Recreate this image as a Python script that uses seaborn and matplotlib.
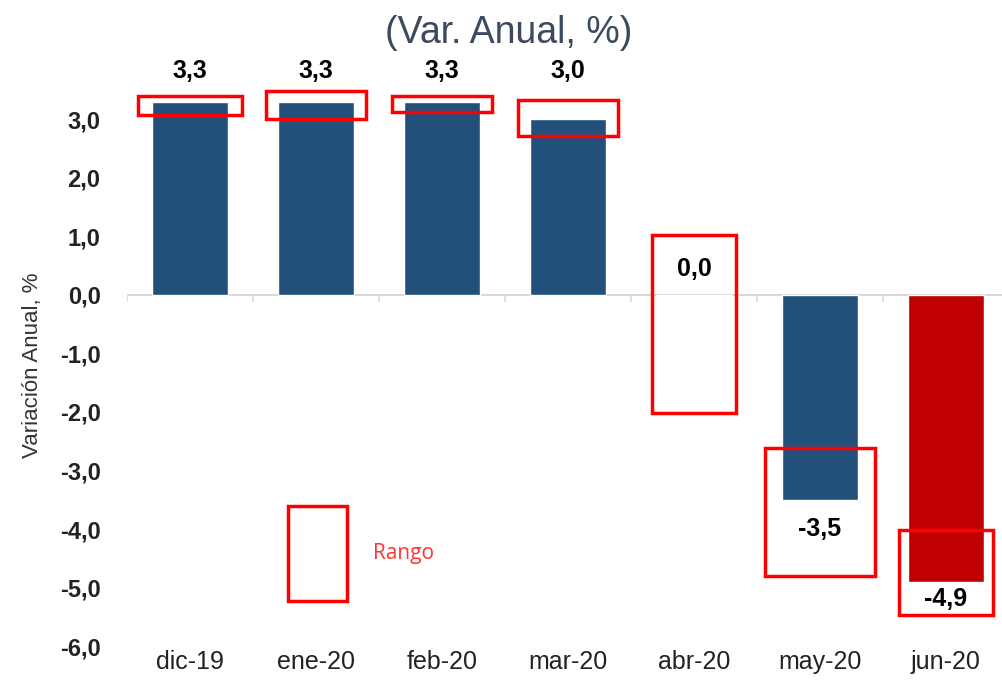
import numpy as np
import pandas as pd
import matplotlib
matplotlib.use("Agg")
import matplotlib.pyplot as plt
import seaborn as sns
from matplotlib.patches import Rectangle

# data
months = ["dic-19", "ene-20", "feb-20", "mar-20", "abr-20", "may-20", "jun-20"]
values = [3.3, 3.3, 3.3, 3.0, 0.0, -3.5, -4.9]
range_high = [3.40, 3.49, 3.40, 3.33, 1.03, -2.62, -4.02]
range_low = [3.08, 3.01, 3.13, 2.72, -2.02, -4.80, -5.47]
label_y = [3.83, 3.83, 3.83, 3.83, 0.45, -4.0, -5.2]

# style
blue = "#22507a"
red = "#c00000"
bar_colors = [blue] * 6 + [red]
box_widths = [0.82, 0.79, 0.80, 0.80, 0.66, 0.87, 0.74]

sns.set_style("white")
plt.rcParams["font.family"] = ["Liberation Sans", "DejaVu Sans"]

df = pd.DataFrame({"mes": months, "var": values})

fig = plt.figure(figsize=(10.03, 6.96), dpi=100)
ax = fig.add_axes([0.1266, 0.0718, 0.873, 0.807])

sns.barplot(data=df, x="mes", y="var", hue="mes", palette=bar_colors,
            legend=False, width=0.6, saturation=1, ax=ax)

# zero line and boundary ticks
ax.axhline(0, color="#d9d9d9", lw=1.5, zorder=0)
bounds = np.arange(len(months) + 1) - 0.5
ax.vlines(bounds, -0.12, 0, color="#d9d9d9", lw=1.2, zorder=0)

# range boxes
for i, (lo, hi, w) in enumerate(zip(range_low, range_high, box_widths)):
    ax.add_patch(Rectangle((i - w / 2, lo), w, hi - lo, fill=False,
                           edgecolor="#ff0000", lw=2.5, zorder=5, clip_on=False))

# value labels
for i, (v, ly) in enumerate(zip(values, label_y)):
    ax.text(i, ly, f"{v:.1f}".replace(".", ","), ha="center", va="center",
            fontsize=18, fontweight="bold", color="black", zorder=6, clip_on=False)

# legend box
ax.add_patch(Rectangle((0.78, -5.23), 0.47, 1.62, fill=False,
                       edgecolor="#ff0000", lw=2.5, zorder=5))
ax.text(1.45, -4.42, "Rango", color="#ff3333", fontsize=15, va="center", ha="left",
        family=["Open Sans", "DejaVu Sans"])

ax.set_xlim(-0.5, 6.45)
ax.set_ylim(-6.0, 3.6)
yt = np.arange(-6, 4, 1.0)
ax.set_yticks(yt)
ax.set_yticklabels([f"{t:.1f}".replace(".", ",") for t in yt])
ax.tick_params(axis="y", length=0, pad=19, labelsize=17, labelcolor="#222222")
ax.tick_params(axis="x", length=0, pad=3, labelsize=18, labelcolor="#222222")
for lab in ax.get_yticklabels():
    lab.set_fontweight("bold")
ax.set_xlabel("")
ax.set_ylabel("Variación Anual, %", fontsize=16, color="#333333", labelpad=12)
for s in ax.spines.values():
    s.set_visible(False)

fig.text(0.507, 0.952, "(Var. Anual, %)", ha="center", va="center",
         fontsize=27, color="#3b4a5e")

fig.savefig("out.png", dpi=100)
